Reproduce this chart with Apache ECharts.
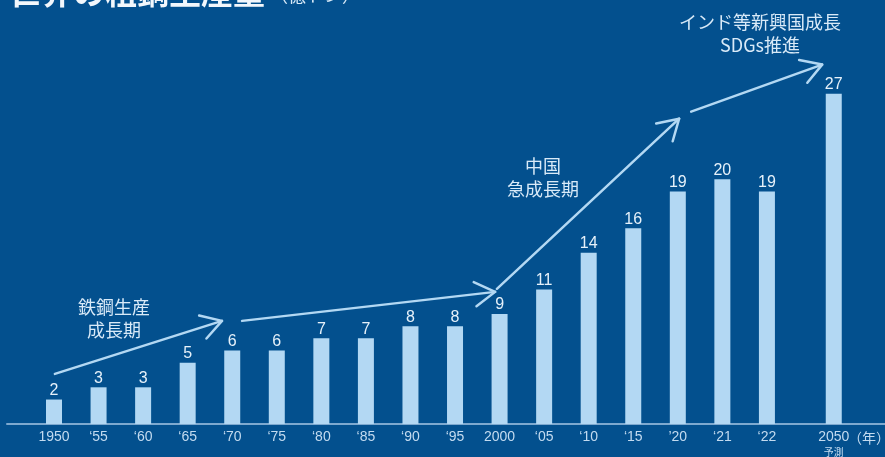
<!DOCTYPE html>
<html>
<head>
<meta charset="utf-8">
<script src="https://cdn.jsdelivr.net/npm/echarts@6/dist/echarts.min.js"></script>
<style>
  html, body { margin: 0; padding: 0; background: #03508e; }
  #main { width: 885px; height: 457px; }
</style>
</head>
<body>
<div id="main"></div>
<script>
// 世界の粗鋼生産量（億トン）
var yearLabels = ['1950', '‘55', '‘60', '‘65', '‘70', '‘75', '‘80', '‘85', '‘90', '‘95',
                  '2000', '‘05', '‘10', '‘15', '’20', '‘21', '‘22', '2050'];
// 2050 は少し離して置く
var yearPos = [0, 1, 2, 3, 4, 5, 6, 7, 8, 9, 10, 11, 12, 13, 14, 15, 16, 17.5];
var output = [2, 3, 3, 5, 6, 6, 7, 7, 8, 8, 9, 11, 14, 16, 19, 20, 19, 27];

// 矢印（データ座標：[x位置, 値]）
var arrows = [
  [[0.02, 4.1], [3.77, 8.43]],
  [[4.22, 8.43], [9.9, 10.8]],
  [[9.94, 11.05], [14.03, 24.96]],
  [[14.3, 25.53], [17.24, 29.38]]
];

var BG = '#03508e';
var BAR = '#b3d8f3';
var TXT = '#d9eaf8';
var LATIN = '"Liberation Sans", Arial, "Noto Sans CJK JP", sans-serif';
var CJK = '"Noto Sans CJK JP", "Liberation Sans", sans-serif';

var chart = echarts.init(document.getElementById('main'), null, { renderer: 'canvas' });

var barData = yearPos.map(function (p, i) { return [p, output[i]]; });

chart.setOption({
  backgroundColor: BG,
  animation: false,
  grid: { left: 7, right: 0, top: 57, bottom: 33, outerBoundsMode: 'none', containLabel: false },
  xAxis: {
    type: 'value',
    min: -1.055,
    max: 18.65,
    splitLine: { show: false },
    axisTick: { show: false },
    axisLine: { show: true, onZero: false, lineStyle: { color: '#7ea9cf', width: 2 } },
    axisLabel: {
      customValues: yearPos,
      showMinLabel: true,
      showMaxLabel: true,
      hideOverlap: false,
      margin: 6,
      color: '#c3dbf0',
      fontSize: 14,
      fontFamily: LATIN,
      lineHeight: 15,
      formatter: function (v) {
        var i = yearPos.indexOf(v);
        if (i < 0) return '';
        if (yearLabels[i] === '2050') return '2050\n{s|予測}';
        return yearLabels[i];
      },
      rich: {
        s: { fontSize: 10, lineHeight: 14, color: '#c3dbf0', fontFamily: CJK }
      }
    }
  },
  yAxis: {
    type: 'value',
    min: 0,
    max: 30,
    show: false,
    splitLine: { show: false }
  },
  series: [{
    type: 'bar',
    data: barData,
    barWidth: 16,
    itemStyle: { color: BAR },
    label: {
      show: true,
      position: 'top',
      distance: 1,
      color: '#e6f1fa',
      fontSize: 16,
      fontFamily: LATIN,
      formatter: function (p) { return p.value[1]; }
    }
  }]
});

function arrowGraphics() {
  var els = [];
  arrows.forEach(function (a) {
    var p0 = chart.convertToPixel({ gridIndex: 0 }, a[0]);
    var p1 = chart.convertToPixel({ gridIndex: 0 }, a[1]);
    var back = Math.atan2(p0[1] - p1[1], p0[0] - p1[0]);
    var len = 23.5, spread = 31 * Math.PI / 180;
    var armA = [p1[0] + len * Math.cos(back + spread), p1[1] + len * Math.sin(back + spread)];
    var armB = [p1[0] + len * Math.cos(back - spread), p1[1] + len * Math.sin(back - spread)];
    var st = { stroke: BAR, lineWidth: 2.5, fill: null, lineCap: 'round', lineJoin: 'round' };
    els.push({ type: 'polyline', shape: { points: [p0, p1] }, style: st, z: 10 });
    els.push({ type: 'polyline', shape: { points: [armA, p1, armB] }, style: st, z: 10 });
  });
  return els;
}

function note(text, x, y) {
  return {
    type: 'text', x: x, y: y, z: 10,
    style: {
      text: text, fill: TXT, font: '18px ' + CJK,
      align: 'center', verticalAlign: 'middle', lineHeight: 23
    }
  };
}

var graphics = arrowGraphics().concat([
  // 上端で切れているタイトル
  {
    type: 'text', x: 9, y: -24, z: 10,
    style: { text: '世界の粗鋼生産量', fill: '#f2f7fc', font: 'bold 32px ' + CJK, verticalAlign: 'top' }
  },
  {
    type: 'text', x: 270, y: -14, z: 10,
    style: { text: '（億トン）', fill: '#d9eaf8', font: '18px ' + CJK, verticalAlign: 'top' }
  },
  note('鉄鋼生産\n成長期', 114, 319),
  note('中国\n急成長期', 543, 178),
  note('インド等新興国成長\nSDGs推進', 760, 34),
  {
    type: 'text', x: 869, y: 438, z: 10,
    style: { text: '（年）', fill: '#c3dbf0', font: '14px ' + CJK, align: 'center', verticalAlign: 'middle' }
  }
]);

chart.setOption({ graphic: graphics });
</script>
</body>
</html>
